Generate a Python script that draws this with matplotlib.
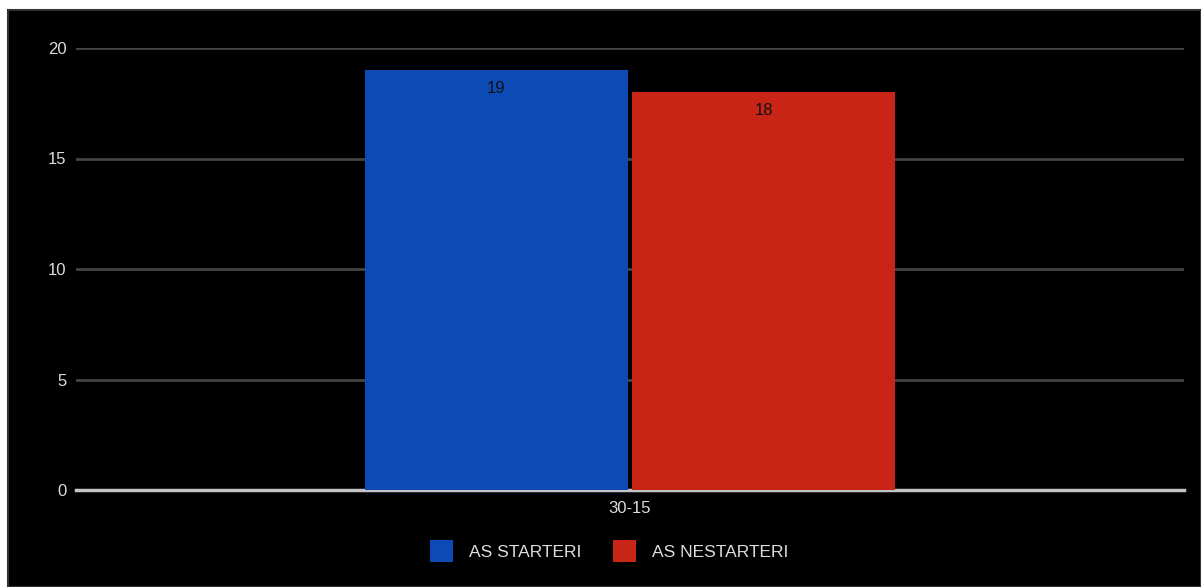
import matplotlib.pyplot as plt
from matplotlib.patches import Rectangle, Patch

plt.rcParams['font.family'] = ['Liberation Sans', 'DejaVu Sans']

categories = ['30-15']
series_names = ['AS STARTERI', 'AS NESTARTERI']
series_values = [[19], [18]]
colors = ['#0C4AB6', '#C82516']
yticks = [0, 5, 10, 15, 20]

fig = plt.figure(figsize=(12.01, 5.87), dpi=100, facecolor='white')
# black panel with a thin dark border, white strips left and top
fig.patches.append(Rectangle((8 / 1201, 0), 1 - 8 / 1201, 1 - 10 / 587,
                             transform=fig.transFigure, facecolor='black',
                             edgecolor='#333333', linewidth=1.5, zorder=-5))

ax = fig.add_axes([76 / 1201, 97 / 587, 1108 / 1201, 442 / 587])
ax.set_facecolor('black')
ax.patch.set_alpha(0)

w = 0.2365
gap = 0.0045
offsets = [-(w + gap) / 2, (w + gap) / 2]
for name, vals, c, off in zip(series_names, series_values, colors, offsets):
    xs = [i + off for i in range(len(categories))]
    bars = ax.bar(xs, vals, width=w, color=c, label=name, zorder=3)
    for b, v in zip(bars, vals):
        ax.annotate(str(v), (b.get_x() + b.get_width() / 2, v), xytext=(0, -13),
                    textcoords='offset points', ha='center', va='center',
                    fontsize=12, color='#111111', zorder=4)

ax.set_xlim(-0.5, 0.5)
ax.set_ylim(0, 20)
ax.set_yticks(yticks)
ax.set_xticks(range(len(categories)))
ax.set_xticklabels(categories)
ax.yaxis.grid(True, color='#444444', linewidth=2, zorder=1)
ax.axhline(0, color='#c4c4c4', linewidth=2.5, zorder=2.5, clip_on=False)
for s in ax.spines.values():
    s.set_visible(False)
ax.tick_params(axis='both', length=0, colors='#dddddd', labelsize=12)
ax.tick_params(axis='y', pad=7)
ax.tick_params(axis='x', pad=8)

handles = [Patch(facecolor=c, label=n) for c, n in zip(colors, series_names)]
fig.legend(handles=handles, loc='center', bbox_to_anchor=(609 / 1201, 1 - 551 / 587),
           ncol=2, frameon=False, fontsize=12.5, labelcolor='#dddddd',
           handlelength=1.32, handleheight=1.65, handletextpad=0.92, columnspacing=1.84)

fig.savefig('out.png', dpi=100, facecolor='white')
